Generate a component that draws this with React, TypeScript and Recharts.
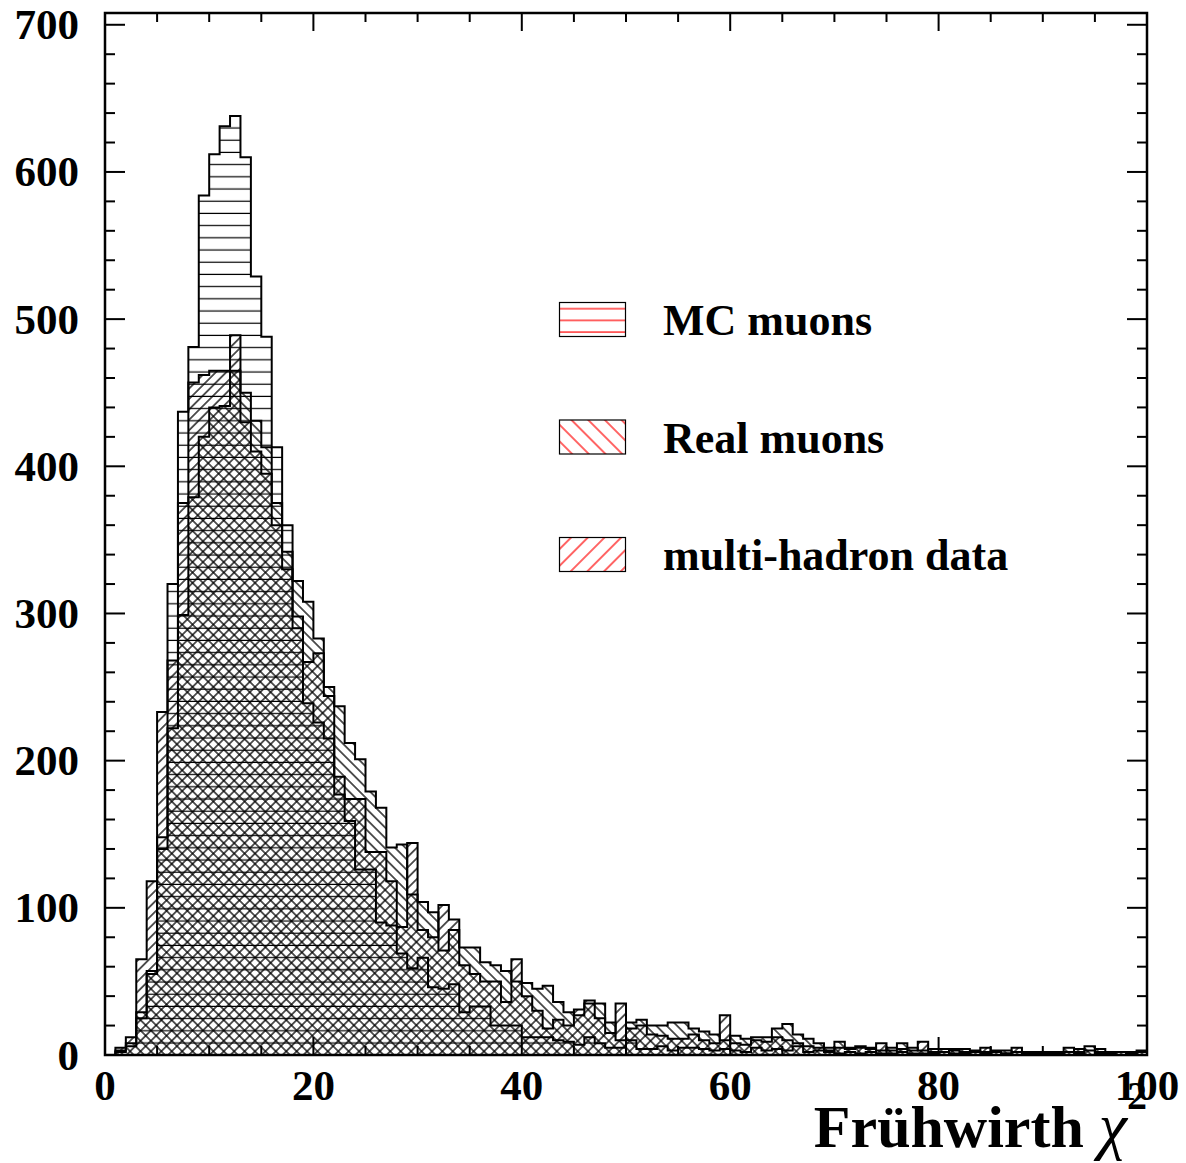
import React from "react";
import { ComposedChart, Area, XAxis, YAxis, ReferenceArea, Legend } from "recharts";

// bin contents, 1 unit wide bins from 0 to 100
const mcMuons = [
  0, 2, 6, 25, 55, 148, 320, 437, 481, 584,
  612, 631, 638, 610, 529, 488, 413, 360, 298, 239,
  226, 215, 177, 159, 126, 126, 90, 88, 69, 59,
  66, 46, 45, 48, 29, 33, 33, 20, 20, 20,
  12, 12, 12, 10, 9, 7, 12, 8, 5, 5,
  10, 4, 4, 6, 3, 5, 5, 4, 3, 4,
  3, 2, 5, 3, 4, 3, 6, 2, 3, 2,
  1, 2, 1, 2, 1, 1, 2, 1, 1, 1,
  0, 1, 1, 0, 1, 0, 1, 0, 1, 0,
  0, 1, 0, 1, 0, 1, 0, 0, 1, 0,
];

const realMuons = [
  0, 3, 8, 29, 57, 140, 222, 299, 379, 420,
  440, 441, 465, 450, 431, 413, 375, 342, 322, 308,
  283, 250, 237, 212, 201, 179, 168, 141, 143, 109,
  104, 97, 71, 85, 73, 73, 63, 61, 57, 50,
  49, 45, 47, 36, 29, 27, 35, 35, 22, 10,
  22, 24, 20, 20, 22, 22, 18, 16, 14, 10,
  13, 11, 12, 12, 18, 21, 14, 11, 8, 5,
  9, 5, 5, 5, 3, 5, 8, 5, 3, 4,
  4, 3, 4, 3, 2, 3, 3, 2, 2, 2,
  2, 2, 5, 2, 6, 4, 2, 2, 2, 3,
];

const multiHadron = [
  0, 5, 12, 65, 118, 233, 268, 375, 457, 462,
  465, 465, 489, 430, 410, 395, 360, 330, 290, 267,
  273, 244, 189, 174, 174, 138, 138, 118, 87, 144,
  85, 80, 102, 92, 61, 55, 50, 50, 36, 65,
  40, 30, 18, 24, 20, 31, 37, 25, 15, 35,
  18, 20, 14, 13, 11, 11, 14, 10, 8, 27,
  8, 7, 10, 9, 12, 10, 8, 6, 5, 3,
  5, 4, 6, 4, 8, 3, 4, 3, 9, 2,
  2, 4, 2, 2, 5, 2, 1, 5, 1, 1,
  1, 1, 2, 4, 3, 2, 1, 2, 1, 2,
];

const xTicks = [0, 5, 10, 15, 20, 25, 30, 35, 40, 45, 50, 55, 60, 65, 70, 75, 80, 85, 90, 95, 100];
const yTicks = [
  0, 20, 40, 60, 80, 100, 120, 140, 160, 180, 200, 220, 240, 260, 280, 300, 320, 340,
  360, 380, 400, 420, 440, 460, 480, 500, 520, 540, 560, 580, 600, 620, 640, 660, 680, 700,
];
const legendNames = ["MC muons", "Real muons", "multi-hadron data"];

const W = 1186;
const H = 1163;
const LEFT = 105;
const RIGHT = 1147;
const TOP = 13;
const BOTTOM = 1055;
const FONT = "'Liberation Serif', 'Times New Roman', serif";

const data = mcMuons.map((v, i) => ({
  x: i,
  mc: v,
  real: realMuons[i],
  multi: multiHadron[i],
}));
// closing point so the last bin gets its full width
data.push({ x: 100, mc: mcMuons[99], real: realMuons[99], multi: multiHadron[99] });

function YTick(props: any) {
  const { y, payload } = props;
  const v = payload.value;
  const major = v % 100 === 0;
  const len = major ? 20 : 10;
  return (
    <g>
      <line x1={LEFT} x2={LEFT + len} y1={y} y2={y} stroke="#000" strokeWidth={2} />
      <line x1={RIGHT - len} x2={RIGHT} y1={y} y2={y} stroke="#000" strokeWidth={2} />
      {major && (
        <text x={79} y={y + 14.5} textAnchor="end" fontFamily={FONT} fontWeight="bold" fontSize={43} fill="#000">
          {v}
        </text>
      )}
    </g>
  );
}

function XTick(props: any) {
  const { x, payload } = props;
  const v = payload.value;
  const major = v % 20 === 0;
  const len = major ? 18 : 9;
  return (
    <g>
      <line x1={x} x2={x} y1={BOTTOM} y2={BOTTOM - len} stroke="#000" strokeWidth={2} />
      <line x1={x} x2={x} y1={TOP} y2={TOP + len} stroke="#000" strokeWidth={2} />
      {major && (
        <text x={x} y={1100} textAnchor="middle" fontFamily={FONT} fontWeight="bold" fontSize={43} fill="#000">
          {v}
        </text>
      )}
    </g>
  );
}

function AxisTitle() {
  return (
    <text x={RIGHT} y={1147} textAnchor="end" fontFamily={FONT} fontWeight="bold" fontSize={60} fill="#000">
      Frühwirth{" "}
      <tspan fontStyle="italic" fontWeight="normal" fontSize={64}>χ</tspan>
      <tspan dy={-38} fontSize={40}>2</tspan>
    </text>
  );
}

function HatchLegend() {
  return (
    <svg width={460} height={290} style={{ display: "block" }}>
      <defs>
        <pattern id="legH" patternUnits="userSpaceOnUse" width="12" height="11.7">
          <line x1="0" y1="2" x2="12" y2="2" stroke="#f00" strokeWidth="1.2" />
        </pattern>
        <pattern id="legBack" patternUnits="userSpaceOnUse" width="11.8" height="11.8" patternTransform="rotate(45)">
          <line x1="0" y1="5.9" x2="11.8" y2="5.9" stroke="#f00" strokeWidth="1.2" />
        </pattern>
        <pattern id="legFwd" patternUnits="userSpaceOnUse" width="11.8" height="11.8" patternTransform="rotate(-45)">
          <line x1="0" y1="5.9" x2="11.8" y2="5.9" stroke="#f00" strokeWidth="1.2" />
        </pattern>
      </defs>
      {legendNames.map((name, i) => {
        const top = 7 + i * 117.5;
        const fills = ["url(#legH)", "url(#legBack)", "url(#legFwd)"];
        return (
          <g key={name}>
            <rect x={4.5} y={top + 0.5} width={66} height={34} fill={fills[i]} stroke="#000" strokeWidth={1.2} />
            <text x={108} y={top + 33} fontFamily={FONT} fontWeight="bold" fontSize={44} fill="#000">
              {name}
            </text>
          </g>
        );
      })}
    </svg>
  );
}

export default function App() {
  return (
    <div style={{ position: "absolute", left: 0, top: 0, width: W, height: H, background: "#fff" }}>
      <ComposedChart
        width={W}
        height={H}
        data={data}
        margin={{ top: TOP, right: W - RIGHT, bottom: H - BOTTOM - 40, left: LEFT - 60 }}
      >
        <defs>
          <pattern id="hatchH" patternUnits="userSpaceOnUse" width="12" height="12.2">
            <line x1="0" y1="6" x2="12" y2="6" stroke="#000" strokeWidth="1.2" />
          </pattern>
          <pattern id="hatchBack" patternUnits="userSpaceOnUse" width="7.36" height="7.36" patternTransform="rotate(45)">
            <line x1="0" y1="3.68" x2="7.36" y2="3.68" stroke="#000" strokeWidth="1.3" />
          </pattern>
          <pattern id="hatchFwd" patternUnits="userSpaceOnUse" width="7.36" height="7.36" patternTransform="rotate(-45)">
            <line x1="0" y1="3.68" x2="7.36" y2="3.68" stroke="#000" strokeWidth="1.3" />
          </pattern>
        </defs>

        <XAxis
          dataKey="x"
          type="number"
          domain={[0, 100]}
          ticks={xTicks}
          interval={0}
          height={40}
          axisLine={false}
          tickLine={false}
          tick={<XTick />}
          label={<AxisTitle />}
        />
        <YAxis
          type="number"
          domain={[0, 708]}
          ticks={yTicks}
          interval={0}
          width={60}
          axisLine={false}
          tickLine={false}
          tick={<YTick />}
          allowDataOverflow
        />

        <Area type="stepAfter" dataKey="mc" stroke="#000" strokeWidth={2} fill="url(#hatchH)" fillOpacity={1}
          dot={false} activeDot={false} isAnimationActive={false} />
        <Area type="stepAfter" dataKey="real" stroke="#000" strokeWidth={2} fill="url(#hatchBack)" fillOpacity={1}
          dot={false} activeDot={false} isAnimationActive={false} />
        <Area type="stepAfter" dataKey="multi" stroke="#000" strokeWidth={2} fill="url(#hatchFwd)" fillOpacity={1}
          dot={false} activeDot={false} isAnimationActive={false} />

        {/* frame */}
        <ReferenceArea x1={0} x2={100} y1={0} y2={708} fill="none" stroke="#000" strokeWidth={2.5} ifOverflow="visible" />

        <Legend
          layout="vertical"
          align="center"
          verticalAlign="middle"
          content={<HatchLegend />}
          wrapperStyle={{ left: 555, top: 295, width: 460, height: 290 }}
        />
      </ComposedChart>
    </div>
  );
}
